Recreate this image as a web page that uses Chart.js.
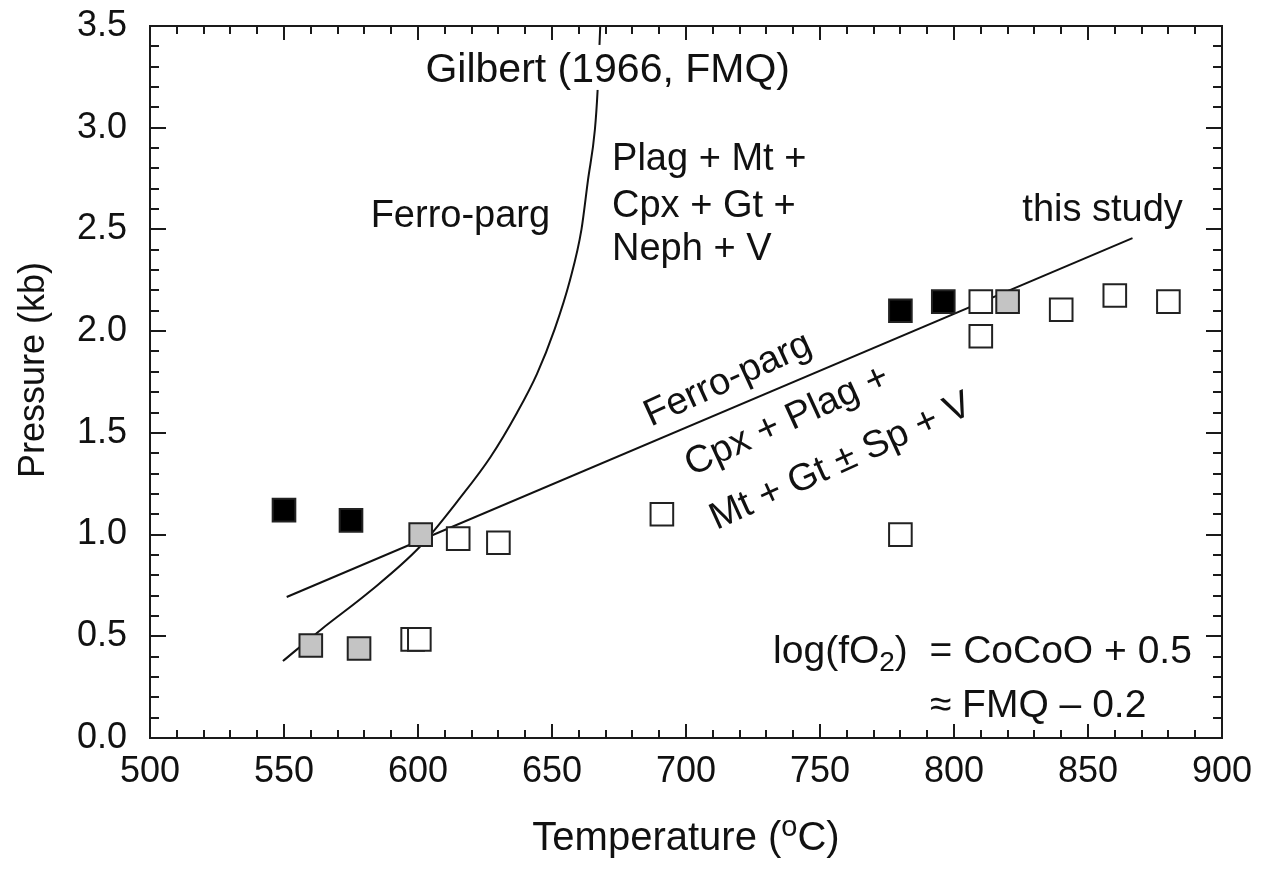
<!DOCTYPE html>
<html>
<head>
<meta charset="utf-8">
<script src="https://cdn.jsdelivr.net/npm/chart.js@4/dist/chart.umd.min.js"></script>
<style>
  html, body { margin: 0; padding: 0; background: #fff; }
  #wrap { width: 1268px; height: 872px; }
</style>
</head>
<body>
<div id="wrap"><canvas id="myChart" width="1268" height="872"></canvas></div>
<script>
const FONT = '"Liberation Sans", Arial, Helvetica, sans-serif';

// runs: temperature (C) and pressure (kb)
const blackT = [550, 575, 780, 796];
const blackP = [1.12, 1.07, 2.10, 2.145];
const grayT = [560, 578, 601, 820];
const grayP = [0.455, 0.44, 1.0, 2.145];
const openT = [598, 600.5, 615, 630, 691, 780, 810, 810, 840, 860, 880];
const openP = [0.485, 0.485, 0.98, 0.96, 1.10, 1.0, 2.145, 1.975, 2.105, 2.175, 2.145];

// Gilbert (1966, FMQ) curve and the boundary from this study
const gilbertT = [549.6, 564, 582, 600.7, 615.7, 627, 637, 644.4, 651, 656.7, 661, 663.4, 666, 667, 668];
const gilbertP = [0.378, 0.535, 0.72, 0.94, 1.18, 1.38, 1.60, 1.79, 2.01, 2.25, 2.50, 2.74, 2.99, 3.18, 3.5];
const studyT = [551, 866.6];
const studyP = [0.693, 2.457];

const tempRange = [500, 900];
const presRange = [0, 3.5];

// text labels inside the plot (placed in data units)
const notes = [
  { text: 'Gilbert (1966, FMQ)', t: 738.8, p: 3.225, align: 'right', knockout: true },
  { text: 'Plag + Mt +', t: 672.4, p: 2.793, align: 'left' },
  { text: 'Cpx + Gt +', t: 672.4, p: 2.561, align: 'left' },
  { text: 'Neph + V', t: 672.4, p: 2.35, align: 'left' },
  { text: 'Ferro-parg', t: 649.3, p: 2.512, align: 'right' },
  { text: 'this study', t: 885.4, p: 2.54, align: 'right' },
];
const slantNotes = [
  { text: 'Ferro-parg', t: 715.7, p: 1.76 },
  { text: 'Cpx + Plag +', t: 737.7, p: 1.558 },
  { text: 'Mt + Gt \u00b1 Sp + V', t: 757.8, p: 1.357 },
];

const pts = (xs, ys) => xs.map((x, i) => ({ x: x, y: ys[i] }));

const decor = {
  id: 'decor',
  afterDatasetsDraw(chart) {
    const { ctx, chartArea: a, scales } = chart;
    const x = scales.x, y = scales.y;
    ctx.save();
    ctx.fillStyle = '#111';

    // straight labels
    ctx.textBaseline = 'alphabetic';
    notes.forEach((n) => {
      const px = x.getPixelForValue(n.t);
      const py = y.getPixelForValue(n.p);
      ctx.font = (n.knockout ? '41px ' : '38px ') + FONT;
      ctx.textAlign = n.align;
      if (n.knockout) {
        const w = ctx.measureText(n.text).width;
        const l = n.align === 'right' ? px - w : px;
        ctx.fillStyle = '#fff';
        ctx.fillRect(l - 4, py - 37, w + 8, 45);
        ctx.fillStyle = '#111';
      }
      ctx.fillText(n.text, px, py);
    });

    // labels along the study line
    ctx.font = '38px ' + FONT;
    ctx.textAlign = 'center';
    ctx.textBaseline = 'middle';
    slantNotes.forEach((n) => {
      ctx.save();
      ctx.translate(x.getPixelForValue(n.t), y.getPixelForValue(n.p));
      ctx.rotate(-24.5 * Math.PI / 180);
      ctx.fillText(n.text, 0, 0);
      ctx.restore();
    });

    // oxygen fugacity note
    ctx.textAlign = 'left';
    ctx.textBaseline = 'alphabetic';
    let cx = x.getPixelForValue(732.5);
    let cy = y.getPixelForValue(0.369);
    ctx.font = '39px ' + FONT;
    ctx.fillText('log(fO', cx, cy);
    cx += ctx.measureText('log(fO').width;
    ctx.font = '28px ' + FONT;
    ctx.fillText('2', cx, cy + 8);
    cx += ctx.measureText('2').width;
    ctx.font = '39px ' + FONT;
    ctx.fillText(')  = CoCoO + 0.5', cx, cy);
    ctx.fillText('\u2248 FMQ \u2013 0.2', x.getPixelForValue(791), y.getPixelForValue(0.103));

    // frame and inward ticks on all four sides
    ctx.strokeStyle = '#1a1a1a';
    ctx.lineWidth = 2;
    ctx.strokeRect(a.left, a.top, a.right - a.left, a.bottom - a.top);
    ctx.beginPath();
    for (let t = tempRange[0]; t <= tempRange[1]; t += 10) {
      const px = Math.round(x.getPixelForValue(t));
      const len = t % 50 === 0 ? 14 : 8;
      ctx.moveTo(px, a.bottom); ctx.lineTo(px, a.bottom - len);
      ctx.moveTo(px, a.top); ctx.lineTo(px, a.top + len);
    }
    for (let k = 0; k <= 35; k++) {
      const py = Math.round(y.getPixelForValue(k / 10));
      const len = k % 5 === 0 ? 16 : 9;
      ctx.moveTo(a.left, py); ctx.lineTo(a.left + len, py);
      ctx.moveTo(a.right, py); ctx.lineTo(a.right - len, py);
    }
    ctx.stroke();

    // axis titles
    ctx.fillStyle = '#111';
    ctx.font = '40px ' + FONT;
    const t1 = 'Temperature (', t2 = 'C)';
    const w1 = ctx.measureText(t1).width, w2 = ctx.measureText(t2).width;
    ctx.font = '29px ' + FONT;
    const ws = ctx.measureText('o').width;
    let sx = (a.left + a.right) / 2 - (w1 + ws + w2) / 2;
    ctx.font = '40px ' + FONT;
    ctx.fillText(t1, sx, 850);
    ctx.font = '29px ' + FONT;
    ctx.fillText('o', sx + w1, 836);
    ctx.font = '40px ' + FONT;
    ctx.fillText(t2, sx + w1 + ws, 850);

    ctx.save();
    ctx.translate(44, (a.top + a.bottom) / 2 - 12);
    ctx.rotate(-Math.PI / 2);
    ctx.textAlign = 'center';
    ctx.font = '36px ' + FONT;
    ctx.fillText('Pressure (kb)', 0, 0);
    ctx.restore();

    ctx.restore();
  }
};

const squareStyle = { pointStyle: 'rect', pointRadius: 16, pointHoverRadius: 16, borderWidth: 2, borderColor: '#222', showLine: false, order: 0 };

new Chart(document.getElementById('myChart'), {
  type: 'scatter',
  data: {
    datasets: [
      Object.assign({ label: 'black', data: pts(blackT, blackP), backgroundColor: '#000' }, squareStyle),
      Object.assign({ label: 'gray', data: pts(grayT, grayP), backgroundColor: '#c4c4c4' }, squareStyle),
      Object.assign({ label: 'open', data: pts(openT, openP), backgroundColor: '#fff' }, squareStyle),
      {
        label: 'Gilbert (1966, FMQ)',
        data: pts(gilbertT, gilbertP),
        showLine: true,
        borderColor: '#111',
        borderWidth: 2,
        pointRadius: 0,
        cubicInterpolationMode: 'monotone',
        order: 1,
      },
      {
        label: 'this study',
        data: pts(studyT, studyP),
        showLine: true,
        borderColor: '#111',
        borderWidth: 2,
        pointRadius: 0,
        tension: 0,
        order: 1,
      },
    ],
  },
  options: {
    responsive: false,
    animation: false,
    devicePixelRatio: 1,
    layout: { padding: { top: 26, right: 46, left: 0, bottom: 0 } },
    plugins: {
      legend: { display: false },
      tooltip: { enabled: false },
    },
    scales: {
      x: {
        type: 'linear',
        min: tempRange[0],
        max: tempRange[1],
        grid: { display: false, drawTicks: false },
        border: { display: false },
        ticks: {
          stepSize: 50,
          maxRotation: 0,
          autoSkip: false,
          padding: 12,
          color: '#111',
          font: { family: FONT, size: 36 },
        },
        afterFit(scale) {
          scale.height = 134;
          scale.paddingLeft = 0;
          scale.paddingRight = 0;
        },
      },
      y: {
        type: 'linear',
        min: presRange[0],
        max: presRange[1],
        grid: { display: false, drawTicks: false },
        border: { display: false },
        ticks: {
          stepSize: 0.5,
          padding: 23,
          color: '#111',
          font: { family: FONT, size: 36 },
          callback: (v) => v.toFixed(1),
        },
        afterFit(scale) {
          scale.width = 150;
          scale.paddingTop = 0;
          scale.paddingBottom = 0;
        },
      },
    },
  },
  plugins: [decor],
});
</script>
</body>
</html>
